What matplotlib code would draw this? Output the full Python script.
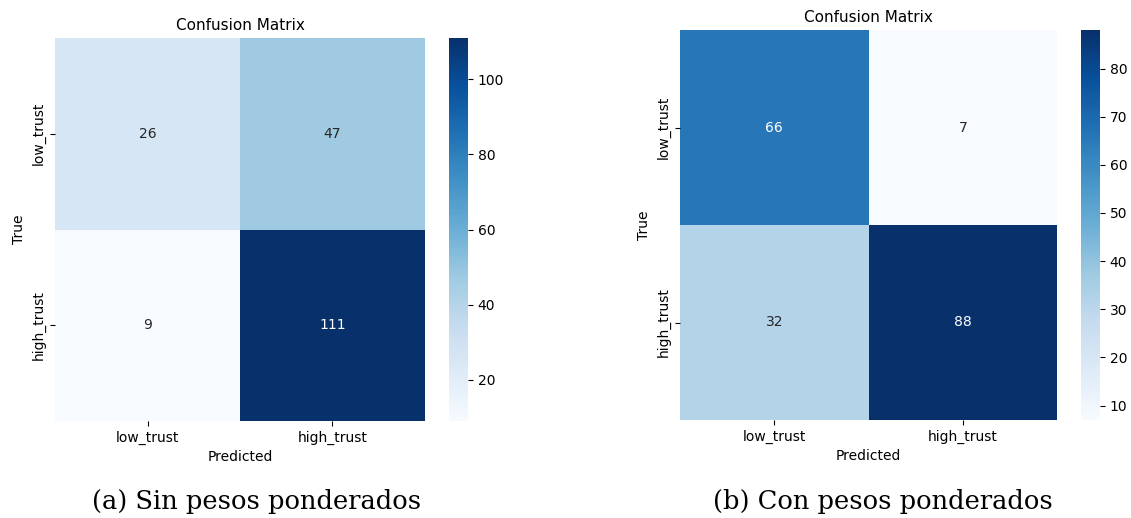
import numpy as np
import matplotlib
matplotlib.use("Agg")
import matplotlib.pyplot as plt
import seaborn as sns

classes = ["low_trust", "high_trust"]
cm_unweighted = np.array([[26, 47],
                          [9, 111]])
cm_weighted = np.array([[66, 7],
                        [32, 88]])
captions = ["(a) Sin pesos ponderados", "(b) Con pesos ponderados"]

W, H = 1131, 518
fig = plt.figure(figsize=(W / 100, H / 100), dpi=100)


def px_axes(x0, y0, x1, y1):
    return fig.add_axes([x0 / W, 1 - y1 / H, (x1 - x0) / W, (y1 - y0) / H])


panels = [
    (cm_unweighted, (55, 38, 425, 421), (449, 38, 468, 421), 257),
    (cm_weighted, (680, 30, 1057, 420), (1081, 30, 1100, 420), 883),
]

for (cm, box, cbox, cap_x), caption in zip(panels, captions):
    ax = px_axes(*box)
    cax = px_axes(*cbox)
    sns.heatmap(cm, annot=True, fmt="d", cmap="Blues",
                xticklabels=classes, yticklabels=classes,
                ax=ax, cbar_ax=cax, annot_kws={"fontsize": 10})
    ax.set_title("Confusion Matrix", fontsize=11)
    ax.set_xlabel("Predicted", fontsize=10)
    ax.set_ylabel("True", fontsize=10)
    ax.tick_params(labelsize=10)
    cax.tick_params(labelsize=10)
    fig.text(cap_x / W, 1 - 501 / H, caption, ha="center", va="center",
             fontsize=18.5, family="DejaVu Serif")

fig.savefig("out.png", dpi=100)
